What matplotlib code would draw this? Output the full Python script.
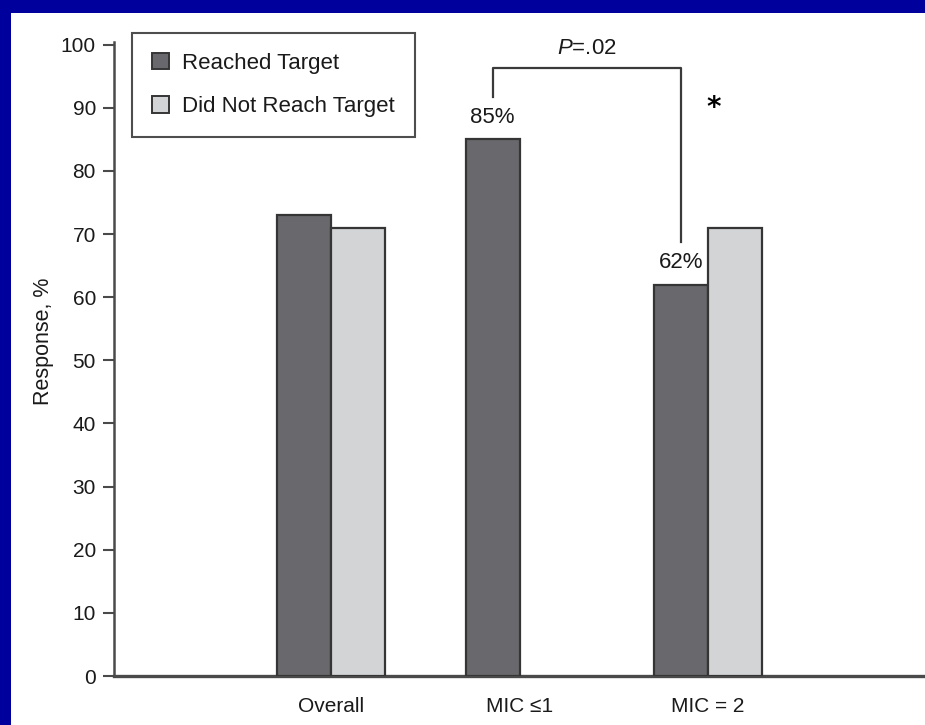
import matplotlib
matplotlib.use("Agg")
import matplotlib.pyplot as plt
from matplotlib.patches import Rectangle, Patch
import numpy as np

# Data
categories = ["Overall", "MIC \u22641", "MIC = 2"]
reached = [73, 85, 62]
not_reached = [71, None, 71]
series_names = ["Reached Target", "Did Not Reach Target"]
yticks = list(range(0, 101, 10))
p_value = ".02"
labelled = [1, 2]          # groups whose "Reached Target" bar carries a value label

SANS = ["Liberation Sans", "DejaVu Sans"]
plt.rcParams["mathtext.fontset"] = "custom"
plt.rcParams["mathtext.it"] = "Liberation Sans:italic"
plt.rcParams["mathtext.rm"] = "Liberation Sans"

DARK = "#69696d"
LIGHT = "#d3d4d6"
EDGE = "#353535"
AXIS = "#4a4a4a"
TEXT = "#1a1a1a"
BLUE = "#00009c"

W, H = 925, 725
fig = plt.figure(figsize=(W / 100, H / 100), dpi=100)
fig.patch.set_facecolor(BLUE)
# white panel inside the blue frame
fig.patches.append(Rectangle((11 / W, 0), 1, 1 - 13 / H, transform=fig.transFigure,
                             facecolor="white", edgecolor="none", zorder=-10))

ax = fig.add_axes([114 / W, 49 / H, 1 - 114 / W, (676 - 44.7) / H])
ax.set_facecolor("none")

x = np.arange(len(categories))
bw = 0.286
ax.bar(x - bw / 2, reached, width=bw, color=DARK, edgecolor=EDGE, linewidth=1.6,
       label=series_names[0], zorder=3)
nx = [xi for xi, v in zip(x, not_reached) if v is not None]
nv = [v for v in not_reached if v is not None]
ax.bar(np.array(nx) + bw / 2, nv, width=bw, color=LIGHT, edgecolor=EDGE, linewidth=1.6,
       label=series_names[1], zorder=3)

ax.set_xlim(-1.151, 3.151)
ax.set_ylim(0, 100)
ax.set_yticks(yticks)
ax.set_yticklabels([str(t) for t in yticks], fontsize=15, family=SANS, color=TEXT)
ax.set_xticks(x)
ax.set_xticklabels(categories, fontsize=15, family=SANS, color=TEXT)
ax.tick_params(axis="x", length=0, pad=15)
ax.tick_params(axis="y", length=8, width=1.5, color=AXIS, pad=5)
for s in ["top", "right"]:
    ax.spines[s].set_visible(False)
ax.spines["left"].set_color(AXIS)
ax.spines["left"].set_linewidth(1.8)
ax.spines["bottom"].set_color(AXIS)
ax.spines["bottom"].set_linewidth(2.4)
ax.spines["left"].set_bounds(0, 100.4)

ax.set_ylabel("Response, %", fontsize=15.5, family=SANS, color=TEXT)
ax.yaxis.set_label_coords(-0.074, 0.53)

# value labels
for i in labelled:
    ax.text(x[i] - bw / 2, reached[i] + 1.8, f"{reached[i]}%", ha="center", va="bottom",
            fontsize=16, family=SANS, color=TEXT)

# significance bracket between the two "Reached Target" bars
x1, x2 = x[1] - bw / 2, x[2] - bw / 2
ytop = 96.3
ax.plot([x1, x1, x2, x2], [reached[1] + 6.7, ytop, ytop, reached[2] + 6.7],
        color="#3a3a3a", linewidth=1.6, clip_on=False, zorder=4)
ax.text((x1 + x2) / 2, ytop + 1.4, r"$P$=" + p_value, ha="center", va="bottom",
        fontsize=16, family=SANS, color=TEXT, clip_on=False)
ax.text(2.03, 90.0, "*", ha="center", va="center", fontsize=20, fontweight="bold",
        family=["DejaVu Sans"], color="black")

handles = [Patch(facecolor=DARK, edgecolor=EDGE, linewidth=1.4),
           Patch(facecolor=LIGHT, edgecolor=EDGE, linewidth=1.4)]
leg = ax.legend(handles, series_names, loc="upper left",
                bbox_to_anchor=(132 / W, 1 - 33 / H), bbox_transform=fig.transFigure,
                prop={"family": SANS, "size": 16}, frameon=True, fancybox=False,
                handlelength=0.75, handleheight=0.75, handletextpad=0.6,
                labelspacing=1.0, borderpad=0.9, borderaxespad=0)
leg.get_frame().set_edgecolor("#222222")
leg.get_frame().set_linewidth(1.5)
for t in leg.get_texts():
    t.set_color(TEXT)

fig.savefig("out.png", dpi=100, facecolor=fig.get_facecolor())
